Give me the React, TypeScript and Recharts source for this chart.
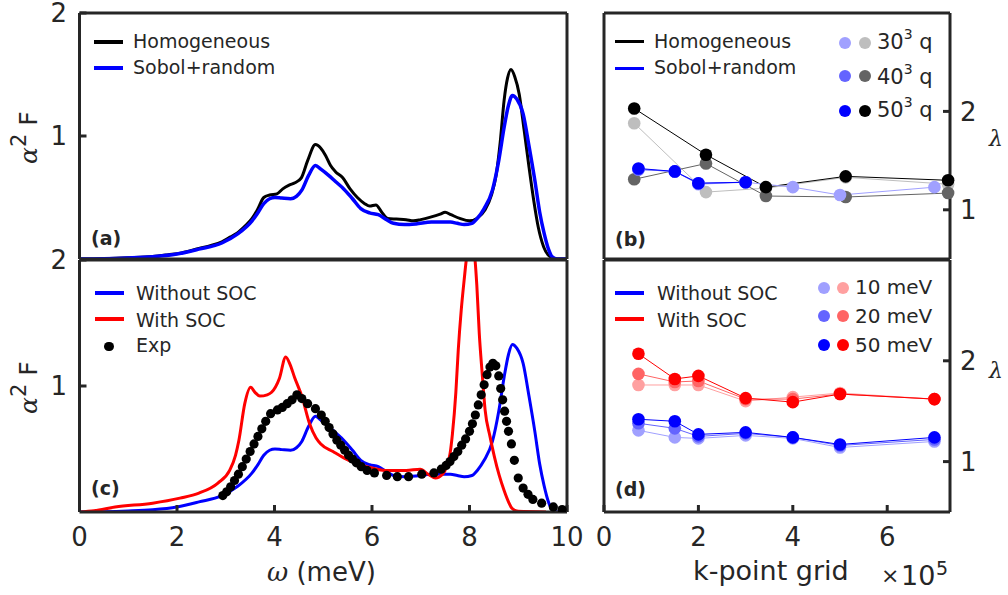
import React from 'react'
import { ComposedChart, Line, Scatter, XAxis, YAxis } from 'recharts'

const FONT = '"DejaVu Sans", sans-serif'
const SERIF = '"DejaVu Serif", serif'
const INK = '#262626'

// (a) alpha^2 F : homogeneous vs Sobol+random k-point sampling
const homW = [0, 0.5, 1.0, 1.5, 1.82, 2.1, 2.45, 2.7, 2.92, 3.1, 3.23, 3.4, 3.54, 3.65, 3.78, 3.9, 4.05, 4.17, 4.3, 4.42, 4.55, 4.68, 4.84, 4.95, 5.05, 5.15, 5.25, 5.4, 5.55, 5.7, 5.85, 5.95, 6.08, 6.2, 6.32, 6.5, 6.7, 6.85, 7.0, 7.2, 7.4, 7.5, 7.62, 7.8, 8.0, 8.15, 8.32, 8.45, 8.55, 8.63, 8.71, 8.78, 8.85, 8.93, 9.02, 9.12, 9.22, 9.32, 9.41, 9.52, 9.65, 9.8, 10]
const homF = [0, 0.003, 0.01, 0.02, 0.035, 0.05, 0.085, 0.11, 0.14, 0.18, 0.21, 0.27, 0.33, 0.4, 0.5, 0.52, 0.53, 0.57, 0.6, 0.62, 0.66, 0.8, 0.93, 0.9, 0.84, 0.76, 0.71, 0.66, 0.57, 0.5, 0.45, 0.43, 0.44, 0.38, 0.33, 0.325, 0.32, 0.31, 0.32, 0.34, 0.365, 0.38, 0.36, 0.33, 0.31, 0.33, 0.4, 0.52, 0.69, 0.95, 1.29, 1.47, 1.54, 1.48, 1.34, 1.05, 0.75, 0.47, 0.26, 0.1, 0.02, 0, 0]
const sobW = [0, 0.5, 1.0, 1.5, 2.0, 2.45, 2.92, 3.23, 3.54, 3.65, 3.78, 3.9, 4.01, 4.15, 4.33, 4.45, 4.56, 4.7, 4.84, 4.95, 5.11, 5.25, 5.42, 5.6, 5.77, 5.95, 6.13, 6.3, 6.44, 6.67, 6.9, 7.22, 7.61, 7.75, 7.89, 8.05, 8.16, 8.3, 8.47, 8.6, 8.71, 8.8, 8.88, 8.97, 9.1, 9.22, 9.34, 9.44, 9.53, 9.62, 9.69, 9.8, 10]
const sobF = [0, 0.002, 0.008, 0.018, 0.04, 0.08, 0.13, 0.2, 0.31, 0.37, 0.45, 0.49, 0.5, 0.495, 0.49, 0.51, 0.56, 0.68, 0.76, 0.73, 0.68, 0.63, 0.57, 0.49, 0.41, 0.375, 0.36, 0.32, 0.29, 0.28, 0.285, 0.3, 0.3, 0.29, 0.28, 0.29, 0.33, 0.41, 0.56, 0.8, 1.07, 1.25, 1.33, 1.3, 1.18, 0.92, 0.64, 0.38, 0.21, 0.08, 0.02, 0, 0]

// (c) with SOC + experiment (without SOC = Sobol curve above)
const socW = [0, 0.3, 0.73, 1.5, 2.06, 2.45, 2.84, 3.08, 3.2, 3.27, 3.39, 3.51, 3.6, 3.7, 3.85, 3.94, 4.1, 4.23, 4.32, 4.41, 4.56, 4.72, 4.85, 4.95, 5.2, 5.42, 5.65, 5.89, 6.28, 6.7, 6.99, 7.15, 7.3, 7.45, 7.53, 7.6, 7.65, 7.72, 7.77, 7.83, 7.89, 7.95, 8.02, 8.1, 8.15, 8.2, 8.26, 8.32, 8.42, 8.51, 8.61, 8.71, 8.8, 8.87, 9.0, 9.57]
const socF = [0, 0.01, 0.04, 0.07, 0.11, 0.15, 0.23, 0.33, 0.45, 0.57, 0.86, 0.99, 0.95, 0.92, 0.93, 0.95, 1.06, 1.23, 1.17, 1.07, 0.92, 0.7, 0.59, 0.54, 0.48, 0.43, 0.39, 0.36, 0.33, 0.33, 0.34, 0.3, 0.27, 0.3, 0.36, 0.46, 0.62, 0.95, 1.29, 1.6, 1.84, 2.05, 2.15, 2.05, 1.8, 1.42, 1.1, 0.81, 0.6, 0.44, 0.29, 0.17, 0.08, 0.03, 0.005, 0]
const expW = [2.94, 3.02, 3.1, 3.18, 3.26, 3.34, 3.42, 3.5, 3.58, 3.66, 3.74, 3.82, 3.92, 4.06, 4.16, 4.26, 4.36, 4.46, 4.56, 4.68, 4.84, 4.96, 5.04, 5.12, 5.2, 5.28, 5.36, 5.44, 5.52, 5.6, 5.68, 5.78, 5.9, 6.05, 6.3, 6.52, 6.75, 7.02, 7.27, 7.42, 7.52, 7.6, 7.68, 7.76, 7.84, 7.92, 8.0, 8.06, 8.12, 8.18, 8.24, 8.3, 8.36, 8.42, 8.48, 8.54, 8.6, 8.64, 8.68, 8.72, 8.76, 8.8, 8.86, 8.92, 9.0, 9.1, 9.2, 9.3, 9.48, 9.72, 9.9]
const expF = [0.13, 0.16, 0.2, 0.25, 0.3, 0.36, 0.42, 0.48, 0.54, 0.6, 0.66, 0.72, 0.78, 0.81, 0.83, 0.86, 0.89, 0.93, 0.9, 0.86, 0.82, 0.77, 0.72, 0.67, 0.62, 0.57, 0.53, 0.49, 0.45, 0.42, 0.39, 0.36, 0.33, 0.31, 0.29, 0.28, 0.28, 0.3, 0.31, 0.34, 0.37, 0.4, 0.44, 0.48, 0.53, 0.58, 0.64, 0.7, 0.77, 0.85, 0.93, 1.01, 1.09, 1.15, 1.18, 1.16, 1.08, 0.98, 0.89, 0.8, 0.72, 0.64, 0.54, 0.41, 0.27, 0.19, 0.14, 0.1, 0.07, 0.04, 0.02]

// (b) lambda vs k-point grid (x 1e5), per q grid
const homK = [0.64, 2.16, 3.43, 5.12, 7.29]
const hom30 = [1.88, 1.18, 1.22, 1.33, 1.26]
const hom40 = [1.31, 1.47, 1.14, 1.13, 1.17]
const hom50 = [2.03, 1.56, 1.23, 1.34, 1.3]
const sobK = [0.73, 1.5, 2, 3, 4, 5, 7]
const sob30 = [1.41, 1.39, 1.26, 1.28, 1.23, 1.15, 1.23]
const sobK4 = [0.73, 1.5, 2, 3]
const sob40 = [1.41, 1.39, 1.27, 1.28]
const sob50 = [1.42, 1.39, 1.27, 1.28]

// (d) lambda vs k-point grid, per smearing
const noSoc10 = [1.31, 1.24, 1.23, 1.26, 1.23, 1.14, 1.2]
const noSoc20 = [1.38, 1.33, 1.25, 1.28, 1.24, 1.16, 1.22]
const noSoc50 = [1.42, 1.4, 1.27, 1.29, 1.24, 1.17, 1.24]
const soc10 = [1.76, 1.76, 1.76, 1.6, 1.64, 1.68, 1.62]
const soc20 = [1.87, 1.79, 1.8, 1.62, 1.62, 1.67, 1.62]
const soc50 = [2.07, 1.82, 1.85, 1.63, 1.59, 1.67, 1.62]

const wTicks = [0, 2, 4, 6, 8, 10]
const fTicks = [1, 2]
const kTicks = [0, 2, 4, 6]
const lamTicks = [1, 2]

const BLUE = ['#a0a0ff', '#6464ff', '#0000ff']
const RED = ['#ffa0a0', '#ff6464', '#ff0000']
const GREY = ['#bebebe', '#646464', '#000000']

const pts = (xs: number[], ys: number[]) => xs.map((x, i) => ({ x, y: ys[i] }))

const axisLine = { stroke: INK, strokeWidth: 3 }
const tickFont = { fill: INK, fontSize: 26, fontFamily: FONT }

// box frame: four axes, ticks pointing inward; zero-size axes are not drawn, so spares get 1px
function frame(xDomain: number[], xTicks: number[], yDomain: number[], yTicks: number[], xLabels: boolean, yRight: boolean) {
  return [
    <XAxis key="xb" type="number" dataKey="x" domain={xDomain} ticks={xTicks} interval={0} allowDataOverflow
      height={40} tickSize={-7} tickMargin={23} axisLine={axisLine} tickLine={axisLine} tick={xLabels ? tickFont : false} />,
    <XAxis key="xt" xAxisId="t" orientation="top" type="number" dataKey="x" domain={xDomain} ticks={xTicks} interval={0} allowDataOverflow
      height={1} tickSize={-7} axisLine={axisLine} tickLine={axisLine} tick={false} />,
    <YAxis key="yl" type="number" dataKey="y" domain={yDomain} ticks={yTicks} interval={0} allowDataOverflow
      width={yRight ? 1 : 60} tickSize={-7} tickMargin={19.5} axisLine={axisLine} tickLine={axisLine} tick={yRight ? false : tickFont} />,
    <YAxis key="yr" yAxisId="r" orientation="right" type="number" dataKey="y" domain={yDomain} ticks={yTicks} interval={0} allowDataOverflow
      width={yRight ? 50 : 1} tickSize={-7} tickMargin={17} axisLine={axisLine} tickLine={axisLine} tick={yRight ? tickFont : false} />,
  ]
}

function curve(key: string, xs: number[], ys: number[], color: string, w: number) {
  return <Line key={key} data={pts(xs, ys)} dataKey="y" type="monotone" stroke={color} strokeWidth={w} dot={false} activeDot={false} isAnimationActive={false} />
}

function series(key: string, xs: number[], ys: number[], color: string) {
  return <Line key={key} data={pts(xs, ys)} dataKey="y" type="linear" stroke={color} strokeWidth={1} isAnimationActive={false}
    dot={{ r: 6.3, fill: color, stroke: color, strokeWidth: 0, clipDot: false } as any} activeDot={false} />
}

function Txt({ x, b, size = 19, children, style }: { x: number; b: number; size?: number; children: React.ReactNode; style?: React.CSSProperties }) {
  return (
    <div style={{ position: 'absolute', left: x, top: b - 0.846 * size, fontSize: size, lineHeight: 1, fontFamily: FONT, color: INK, whiteSpace: 'nowrap', ...style }}>
      {children}
    </div>
  )
}

function Seg({ x, y, color, w = 29, t = 4 }: { x: number; y: number; color: string; w?: number; t?: number }) {
  return <div style={{ position: 'absolute', left: x, top: y - t / 2, width: w, height: t, background: color }} />
}

function Dot({ x, y, color, r = 6 }: { x: number; y: number; color: string; r?: number }) {
  return <div style={{ position: 'absolute', left: x - r, top: y - r, width: 2 * r, height: 2 * r, borderRadius: '50%', background: color }} />
}

function YLabel({ top }: { top: number }) {
  return (
    <div style={{ position: 'absolute', left: 16, top, transform: 'rotate(-90deg)', transformOrigin: '0 0', fontFamily: FONT, fontSize: 25, lineHeight: 1, color: INK, whiteSpace: 'nowrap' }}>
      <span style={{ fontFamily: SERIF, fontStyle: 'italic' }}>α</span>
      <span style={{ fontSize: 21, position: 'relative', top: -11 }}>2</span> F
    </div>
  )
}

const sup = (s: string) => <span style={{ fontSize: 14, position: 'relative', top: -10 }}>{s}</span>

export default function App() {
  return (
    <div style={{ position: 'absolute', left: 0, top: 0, width: 1008, height: 595, background: '#fff', overflow: 'hidden' }}>
      {/* (a) */}
      <div style={{ position: 'absolute', left: 0, top: 0 }}>
        <ComposedChart width={600} height={300} margin={{ top: 12, right: 32, bottom: 1, left: 19.5 }}>
          {frame([0, 10], wTicks, [0, 2], fTicks, false, false)}
          {curve('hom', homW, homF, '#000000', 3)}
          {curve('sob', sobW, sobF, '#0000ff', 3.5)}
        </ComposedChart>
      </div>
      {/* (c) */}
      <div style={{ position: 'absolute', left: 0, top: 230 }}>
        <ComposedChart width={600} height={365} margin={{ top: 29, right: 32, bottom: 43, left: 19.5 }}>
          {frame([0, 10], wTicks, [0, 2], fTicks, true, false)}
          {curve('nosoc', sobW, sobF, '#0000ff', 3)}
          {curve('soc', socW, socF, '#ff0000', 3)}
          <Scatter data={pts(expW, expF)} dataKey="y" isAnimationActive={false}
            shape={(p: any) => <circle cx={p.cx} cy={p.cy} r={4.6} fill="#000" />} />
        </ComposedChart>
      </div>
      {/* (b) */}
      <div style={{ position: 'absolute', left: 540, top: 0 }}>
        <ComposedChart width={468} height={300} margin={{ top: 12, right: 8, bottom: 1, left: 63 }}>
          {frame([0, 7.33], kTicks, [0.5, 3], lamTicks, false, true)}
          {series('h30', homK, hom30, GREY[0])}
          {series('h40', homK, hom40, GREY[1])}
          {series('h50', homK, hom50, GREY[2])}
          {series('s30', sobK, sob30, BLUE[0])}
          {series('s40', sobK4, sob40, BLUE[1])}
          {series('s50', sobK4, sob50, BLUE[2])}
        </ComposedChart>
      </div>
      {/* (d) */}
      <div style={{ position: 'absolute', left: 540, top: 230 }}>
        <ComposedChart width={468} height={365} margin={{ top: 29, right: 8, bottom: 43, left: 63 }}>
          {frame([0, 7.33], kTicks, [0.5, 3], lamTicks, true, true)}
          {series('n10', sobK, noSoc10, BLUE[0])}
          {series('n20', sobK, noSoc20, BLUE[1])}
          {series('n50', sobK, noSoc50, BLUE[2])}
          {series('r10', sobK, soc10, RED[0])}
          {series('r20', sobK, soc20, RED[1])}
          {series('r50', sobK, soc50, RED[2])}
        </ComposedChart>
      </div>

      {/* axis titles */}
      <YLabel top={164} />
      <YLabel top={414} />
      <Txt x={989} b={147} size={22} style={{ fontFamily: SERIF, fontStyle: 'italic' }}>λ</Txt>
      <Txt x={989} b={379} size={22} style={{ fontFamily: SERIF, fontStyle: 'italic' }}>λ</Txt>
      <Txt x={267} b={581} size={26}><span style={{ fontFamily: SERIF, fontStyle: 'italic' }}>ω</span> (meV)</Txt>
      <Txt x={693} b={580} size={27}>k-point grid</Txt>
      <Txt x={881} b={584} size={22}>×</Txt>
      <Txt x={901} b={585} size={27}>10</Txt>
      <Txt x={936} b={575} size={19}>5</Txt>

      {/* panel tags */}
      <Txt x={91} b={245} style={{ fontWeight: 'bold' }}>(a)</Txt>
      <Txt x={615} b={246} style={{ fontWeight: 'bold' }}>(b)</Txt>
      <Txt x={91} b={495} style={{ fontWeight: 'bold' }}>(c)</Txt>
      <Txt x={615} b={496} style={{ fontWeight: 'bold' }}>(d)</Txt>

      {/* legend (a) */}
      <Seg x={94} y={41.7} color="#000" />
      <Txt x={133} b={48.3}>Homogeneous</Txt>
      <Seg x={94} y={67.7} color="#0000ff" />
      <Txt x={133} b={74.5}>Sobol+random</Txt>

      {/* legend (c) */}
      <Seg x={95} y={292.7} color="#0000ff" />
      <Txt x={136} b={300}>Without SOC</Txt>
      <Seg x={95} y={319.3} color="#ff0000" />
      <Txt x={136} b={326.7}>With SOC</Txt>
      <Dot x={109} y={346.7} color="#000" r={4.6} />
      <Txt x={136} b={352}>Exp</Txt>

      {/* legend (b) */}
      <Seg x={615} y={41.7} color="#000" t={3.5} />
      <Txt x={654} b={48.3}>Homogeneous</Txt>
      <Seg x={615} y={68.3} color="#0000ff" t={3.5} />
      <Txt x={654} b={74.5}>Sobol+random</Txt>
      {[0, 1, 2].map((i) => (
        <React.Fragment key={i}>
          <Dot x={845} y={[43.3, 76, 111][i]} color={BLUE[i]} />
          <Dot x={865} y={[43.3, 76, 111][i]} color={GREY[i]} />
          <Txt x={877} b={[50, 85, 118][i]} size={21}>{['30', '40', '50'][i]}{sup('3')} q</Txt>
        </React.Fragment>
      ))}

      {/* legend (d) */}
      <Seg x={615} y={292.7} color="#0000ff" />
      <Txt x={657} b={300}>Without SOC</Txt>
      <Seg x={615} y={319.3} color="#ff0000" />
      <Txt x={657} b={326.7}>With SOC</Txt>
      {[0, 1, 2].map((i) => (
        <React.Fragment key={i}>
          <Dot x={824} y={[287.7, 316, 345][i]} color={BLUE[i]} />
          <Dot x={843} y={[287.7, 316, 345][i]} color={RED[i]} />
          <Txt x={855} b={[294, 323, 352][i]} size={20}>{['10', '20', '50'][i]} meV</Txt>
        </React.Fragment>
      ))}
    </div>
  )
}
